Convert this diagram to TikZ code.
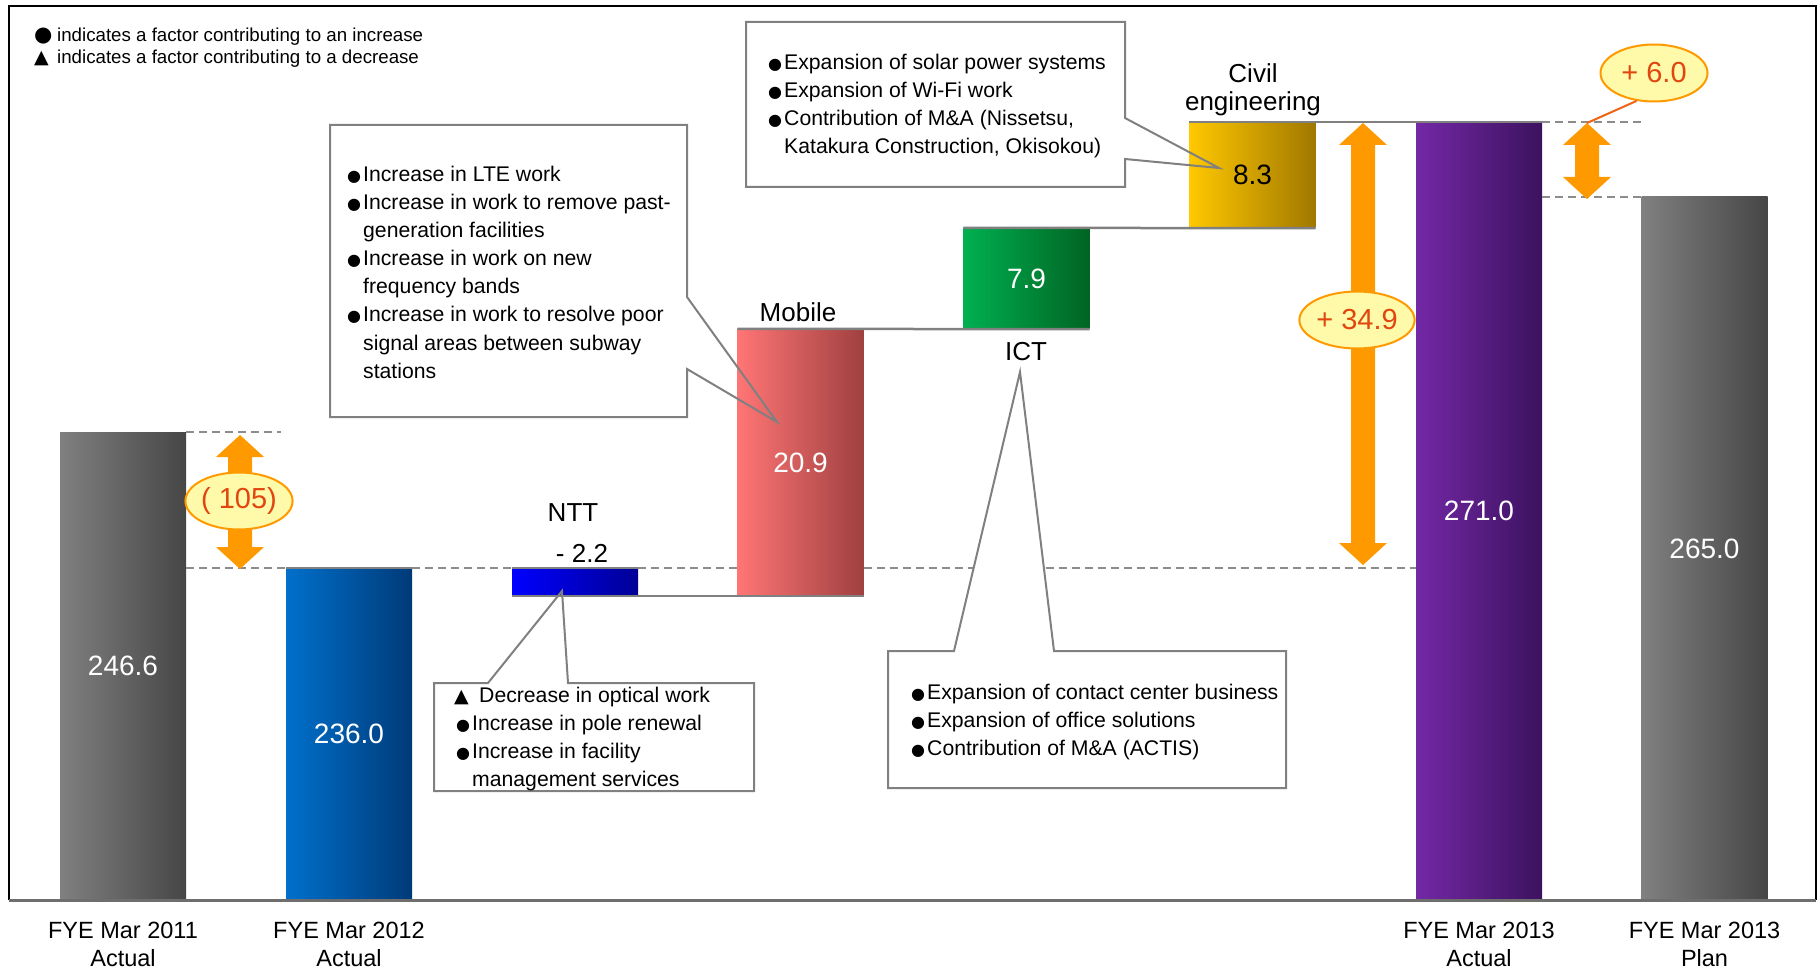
\documentclass[tikz,border=0pt]{standalone}
\usepackage{fontspec}
\setmainfont{Liberation Sans}
\newfontfamily\symf{DejaVu Sans}
\usetikzlibrary{shapes.geometric}
\definecolor{cgray}{RGB}{128,128,128}
\definecolor{lgray}{RGB}{140,140,140}
\definecolor{axgray}{RGB}{110,110,110}
\definecolor{aorange}{RGB}{255,153,0}
\definecolor{eyellow}{RGB}{255,249,170}
\definecolor{ered}{RGB}{225,70,15}
\definecolor{lnred}{RGB}{240,100,20}
\definecolor{grayL}{RGB}{128,128,128}
\definecolor{grayR}{RGB}{70,70,70}
\definecolor{blueL}{RGB}{0,112,204}
\definecolor{blueR}{RGB}{0,58,120}
\definecolor{nttL}{RGB}{0,0,255}
\definecolor{nttR}{RGB}{0,0,150}
\definecolor{mobL}{RGB}{255,117,117}
\definecolor{mobR}{RGB}{160,64,64}
\definecolor{ictL}{RGB}{0,176,80}
\definecolor{ictR}{RGB}{0,100,35}
\definecolor{civL}{RGB}{255,200,0}
\definecolor{civR}{RGB}{160,120,0}
\definecolor{purL}{RGB}{115,40,165}
\definecolor{purR}{RGB}{60,18,95}
\tikzset{
  bar/.style={inner sep=0pt, minimum width=126pt, text=white, font=\fontsize{28}{30}\selectfont},
  conn/.style={draw=cgray, line width=2.5pt},
  dashline/.style={draw=lgray, line width=2pt, dash pattern=on 8pt off 5pt},
  callout/.style={draw=cgray, line width=2pt, line join=miter},
  ctext/.style={anchor=base west, inner sep=0pt, font=\fontsize{21.2}{28}\selectfont},
  legtext/.style={anchor=base west, inner sep=0pt, font=\fontsize{18.7}{22}\selectfont},
  cat/.style={anchor=base, inner sep=0pt, font=\fontsize{26}{28}\selectfont},
  badge/.style={ellipse, draw=aorange, line width=2pt, fill=eyellow, minimum width=107pt, minimum height=57pt, inner sep=0pt, text=ered, font=\fontsize{29}{30}\selectfont},
  axislab/.style={anchor=base, inner sep=0pt, font=\fontsize{23.5}{26}\selectfont},
}
\newcommand{\dblarrow}[3]{%
  \fill[aorange] (#1,#2) -- (#1+24,#2+22) -- (#1+12,#2+22) -- (#1+12,#3-22) -- (#1+24,#3-22) -- (#1,#3) -- (#1-24,#3-22) -- (#1-12,#3-22) -- (#1-12,#2+22) -- (#1-24,#2+22) -- cycle;}
\newcommand{\bu}{\makebox[16pt][l]{\symf\fontsize{16}{20}\selectfont ●}}
\newcommand{\ind}{\hspace*{16pt}}
\begin{document}
\begin{tikzpicture}[x=1pt,y=-1pt]
\useasboundingbox (0,0) rectangle (1818,968);
\fill[white] (0,0) rectangle (1818,968);
% frame
\draw[black, line width=2.5pt] (9,900) -- (9,6) -- (1816,6) -- (1816,900);

% callout fills (under bars)
\fill[white] (330,125) -- (687,125) -- (687,297) -- (777,422) -- (687,369) -- (687,417) -- (330,417) -- cycle;
\fill[white] (434,683) -- (488,683) -- (562,591) -- (568,683) -- (754,683) -- (754,791) -- (434,791) -- cycle;
\fill[white] (746,22) -- (1125,22) -- (1125,118) -- (1219,168) -- (1125,159) -- (1125,187) -- (746,187) -- cycle;

% bars
\node[bar, minimum height=468pt, left color=grayL, right color=grayR] (b2011) at (123,666) {246.6};
\node[bar, minimum height=332pt, left color=blueL, right color=blueR] (b2012) at (349,734) {236.0};
\node[bar, minimum height=28pt, left color=nttL, right color=nttR] (bntt) at (575,582) {};
\node[bar, minimum height=267pt, left color=mobL, right color=mobR] (bmob) at (800.5,462.5) {20.9};
\node[bar, minimum height=101pt, left color=ictL, right color=ictR] (bict) at (1026.5,278.5) {7.9};
\node[bar, minimum height=106pt, left color=civL, right color=civR, text=black] (bciv) at (1252.5,175) {8.3};
\node[bar, minimum height=778pt, left color=purL, right color=purR] (b2013) at (1479,511) {271.0};
\node[bar, minimum height=703pt, left color=grayL, right color=grayR] (bplan) at (1704.5,548.5) {265.0};

% dashed reference lines
\draw[dashline] (b2011.north east) -- ++(95,0);
\draw[dashline] (b2011.east |- b2012.north) -- (b2012.north west);
\draw[dashline] (b2012.north east) -- (bntt.north west);
\draw[dashline] (bntt.north east) -- (bmob.west |- bntt.north);
\draw[dashline] (bmob.east |- bntt.north) -- (b2013.west |- bntt.north);
\draw[dashline] (b2013.north east) -- (bplan.west |- b2013.north);
\draw[dashline] (b2013.east |- bplan.north) -- (bplan.north west);

% ICT callout (over the dashed line)
\filldraw[fill=white, callout] (888,651) -- (954,651) -- (1020,372) -- (1054,651) -- (1286,651) -- (1286,788) -- (888,788) -- cycle;

% solid connectors
\draw[conn] (b2012.north west) -- (b2012.north east);
\draw[conn] (bntt.north west) -- (bntt.north east);
\draw[conn] (bntt.south west) -- (bmob.south east);
\draw[conn] (bmob.north west) -- (bict.south east);
\draw[conn] (bict.north west) -- (bciv.south east);
\draw[conn] (bciv.north west) -- (b2013.north east);

% axis
\draw[axgray, line width=3pt] (9,900) -- (1816,900);

% callout outlines
\draw[callout] (330,125) -- (687,125) -- (687,297) -- (777,422) -- (687,369) -- (687,417) -- (330,417) -- cycle;
\draw[callout] (434,683) -- (488,683) -- (562,591) -- (568,683) -- (754,683) -- (754,791) -- (434,791) -- cycle;
\draw[callout] (746,22) -- (1125,22) -- (1125,118) -- (1219,168) -- (1125,159) -- (1125,187) -- (746,187) -- cycle;

% legend
\node[legtext] (g1) at (34,42) {\makebox[23pt][l]{\symf\fontsize{21}{22}\selectfont ●}indicates a factor contributing to an increase};
\node[legtext] (g2) at (34,64) {\makebox[23pt][l]{\symf\fontsize{19}{22}\selectfont ▲}indicates a factor contributing to a decrease};

% mobile callout text
\node[ctext] (m1) at (347,182) {\bu Increase in LTE work};
\node[ctext] (m2) at (347,210) {\bu Increase in work to remove past-};
\node[ctext] (m3) at (347,238) {\ind generation facilities};
\node[ctext] (m4) at (347,266) {\bu Increase in work on new};
\node[ctext] (m5) at (347,294) {\ind frequency bands};
\node[ctext] (m6) at (347,322) {\bu Increase in work to resolve poor};
\node[ctext] (m7) at (347,350) {\ind signal areas between subway};
\node[ctext] (m8) at (347,378) {\ind stations};

% NTT callout text
\node[ctext] (n1) at (454,702) {\makebox[25pt][l]{\symf\fontsize{19}{20}\selectfont ▲}Decrease in optical work};
\node[ctext] (n2) at (456,730) {\bu Increase in pole renewal};
\node[ctext] (n3) at (456,758) {\bu Increase in facility};
\node[ctext] (n4) at (456,786) {\ind management services};

% ICT callout text
\node[ctext] (i1) at (911,699) {\bu Expansion of contact center business};
\node[ctext] (i2) at (911,727) {\bu Expansion of office solutions};
\node[ctext] (i3) at (911,755) {\bu Contribution of M\&A (ACTIS)};

% Civil callout text
\node[ctext] (c1) at (768,70) {\bu Expansion of solar power systems};
\node[ctext] (c2) at (768,98) {\bu Expansion of Wi-Fi work};
\node[ctext] (c3) at (768,126) {\bu Contribution of M\&A (Nissetsu,};
\node[ctext] (c4) at (768,154) {\ind Katakura Construction, Okisokou)};

% category labels
\node[cat] (lntt) at (573,521) {NTT};
\node[cat] (lnttv) at (582,562) {- 2.2};
\node[cat] (lmob) at (798,322) {Mobile};
\node[cat] (lict) at (1026,360) {ICT};
\node[cat] (lciv1) at (1253,83) {Civil};
\node[cat] (lciv2) at (1253,111) {engineering};

% orange arrows
\dblarrow{240}{435}{569}
\dblarrow{1363}{123}{565}
\dblarrow{1587}{123}{199}

% badges
\node[badge] (d1) at (239,501) {( 105)};
\node[badge] (d2) at (1357,320) {+ 34.9};
\node[badge] (d3) at (1654,73) {+ 6.0};
\coordinate (a3top) at (1587,123);
\draw[lnred, line width=2pt] (d3.238) -- (a3top);

% axis labels
\node[axislab] (x1) at (123,938) {FYE Mar 2011};
\node[axislab] (x2) at (123,966) {Actual};
\node[axislab] (x3) at (349,938) {FYE Mar 2012};
\node[axislab] (x4) at (349,966) {Actual};
\node[axislab] (x5) at (1479,938) {FYE Mar 2013};
\node[axislab] (x6) at (1479,966) {Actual};
\node[axislab] (x7) at (1704.5,938) {FYE Mar 2013};
\node[axislab] (x8) at (1704.5,966) {Plan};
\end{tikzpicture}
\end{document}
